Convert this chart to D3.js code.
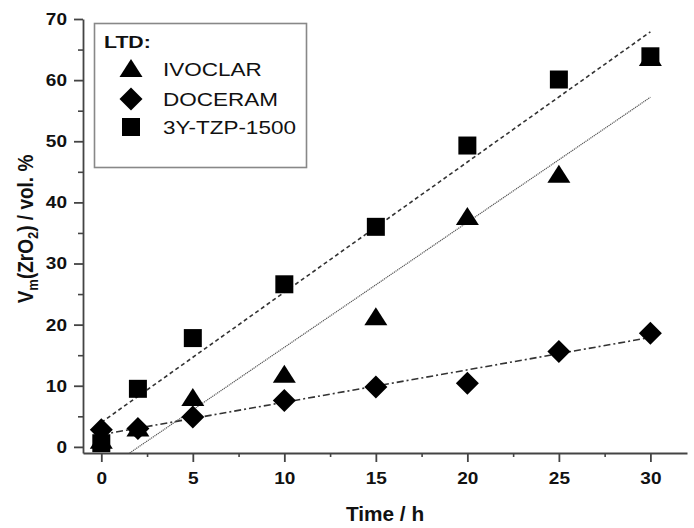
<!DOCTYPE html>
<html><head><meta charset="utf-8">
<script src="https://cdn.jsdelivr.net/npm/d3@7"></script>
<style>body{margin:0;background:#fff}svg{display:block}text{font-family:"Liberation Sans",Arial,sans-serif}</style>
</head><body>
<svg id="c" width="694" height="528"></svg>
<script>
const times = [0, 2, 5, 10, 15, 20, 25, 30];
const ivoclar = [1.0, 3.0, 8.0, 11.8, 21.2, 37.6, 44.5, 63.6];
const doceram = [2.8, 3.0, 4.9, 7.6, 9.8, 10.4, 15.6, 18.6];
const tzp = [0.6, 9.5, 17.8, 26.6, 36.0, 49.3, 60.1, 63.9];
// fitted lines: [x0, y0, x1, y1]
const fitIvoclar = [1.55, -1.0, 30, 57.2];
const fitDoceram = [0, 2.0, 30, 17.9];
const fitTzp = [0, 4.0, 30, 67.9];
const xTicks = [0, 5, 10, 15, 20, 25, 30];
const yTicks = [0, 10, 20, 30, 40, 50, 60, 70];
const legendLabels = ["IVOCLAR", "DOCERAM", "3Y-TZP-1500"];

const svg = d3.select("#c");
const x = d3.scaleLinear().domain([-1, 32]).range([83, 687]);
const y = d3.scaleLinear().domain([-1, 70]).range([453, 19]);

// marker shapes
const triPath = "M0,-10L11.5,8L-11.5,8Z";
const diaPath = "M0,-11.5L11.5,0L0,11.5L-11.5,0Z";
const sqPath = "M-9,-9H9V9H-9Z";

const g = svg.append("g");
function fitLine(f, dash, width, color) {
  g.append("line").attr("x1", x(f[0])).attr("y1", y(f[1])).attr("x2", x(f[2])).attr("y2", y(f[3]))
    .attr("stroke", color).attr("stroke-width", width).attr("stroke-dasharray", dash);
}
fitLine(fitTzp, "4,3", 1.6, "#333");
fitLine(fitIvoclar, "1.2,0.8", 1.2, "#555");
fitLine(fitDoceram, "7,3,2,3", 1.6, "#333");

function drawSeries(vals, p) {
  g.selectAll(null).data(times).enter().append("path")
    .attr("d", p).attr("fill", "#000")
    .attr("transform", (t, i) => `translate(${x(t)},${y(vals[i])})`);
}
drawSeries(tzp, sqPath);
drawSeries(doceram, diaPath);
drawSeries(ivoclar, triPath);

const axisColor = "#444";
// x axis
const xAxis = d3.axisBottom(x).tickValues(xTicks).tickSize(9).tickPadding(10).tickSizeOuter(0);
const gx = svg.append("g").attr("transform", `translate(0,${y(-1)})`).call(xAxis);
gx.selectAll(".tick text").attr("font-size", 17).attr("font-weight", "bold").attr("fill", "#111")
  .attr("transform", "scale(1.12,1)");
gx.select(".domain").attr("stroke", axisColor).attr("stroke-width", 1.8);
gx.selectAll(".tick line").attr("stroke", axisColor).attr("stroke-width", 1.8);
const xMinor = d3.axisBottom(x).tickValues([2.5, 7.5, 12.5, 17.5, 22.5, 27.5]).tickSize(4).tickFormat("").tickSizeOuter(0);
const gxm = svg.append("g").attr("transform", `translate(0,${y(-1)})`).call(xMinor);
gxm.select(".domain").remove();
gxm.selectAll(".tick line").attr("stroke", axisColor).attr("stroke-width", 1.6);

// y axis
const yAxis = d3.axisLeft(y).tickValues(yTicks).tickSize(9).tickPadding(6).tickSizeOuter(0);
const gy = svg.append("g").attr("transform", `translate(${x(-1)},0)`).call(yAxis);
gy.selectAll(".tick text").attr("font-size", 17).attr("font-weight", "bold").attr("fill", "#111")
  .attr("x", 0).attr("transform", "translate(-16,0) scale(1.12,1)");
gy.select(".domain").attr("stroke", axisColor).attr("stroke-width", 1.8);
gy.selectAll(".tick line").attr("stroke", axisColor).attr("stroke-width", 1.8);
const yMinor = d3.axisLeft(y).tickValues([5, 15, 25, 35, 45, 55, 65]).tickSize(5).tickFormat("").tickSizeOuter(0);
const gym = svg.append("g").attr("transform", `translate(${x(-1)},0)`).call(yMinor);
gym.select(".domain").remove();
gym.selectAll(".tick line").attr("stroke", axisColor).attr("stroke-width", 1.6);

// axis titles
svg.append("text").attr("transform", `translate(${(x(-1) + x(32)) / 2},521) scale(1.04,1)`).attr("text-anchor", "middle")
  .attr("font-size", 20).attr("font-weight", "bold").attr("fill", "#111").text("Time / h");
const yt = svg.append("text").attr("transform", `translate(33,229) rotate(-90) scale(1,1.15)`).attr("text-anchor", "middle")
  .attr("font-size", 19).attr("font-weight", "bold").attr("fill", "#111");
yt.append("tspan").text("V");
yt.append("tspan").attr("font-size", 13).attr("dy", 4).text("m");
yt.append("tspan").attr("dy", -4).text("(ZrO");
yt.append("tspan").attr("font-size", 13).attr("dy", 4).text("2");
yt.append("tspan").attr("dy", -4).text(") / vol. %");

// legend
const lg = svg.append("g");
lg.append("rect").attr("x", 94.5).attr("y", 23.5).attr("width", 212).attr("height", 144)
  .attr("fill", "#fff").attr("stroke", "#888").attr("stroke-width", 1.6);
lg.append("text").attr("transform", "translate(104,48) scale(1.25,1)").attr("font-size", 17)
  .attr("font-weight", "bold").attr("fill", "#111").text("LTD:");
const syms = [triPath, diaPath, sqPath];
const rowsY = [69, 99, 127];
legendLabels.forEach((l, i) => {
  lg.append("path").attr("d", syms[i]).attr("fill", "#000").attr("transform", `translate(131,${rowsY[i]})`);
  lg.append("text").attr("transform", `translate(163,${rowsY[i] + 7}) scale(1.25,1)`).attr("font-size", 18)
    .attr("fill", "#111").text(l);
});
</script>
</body></html>
